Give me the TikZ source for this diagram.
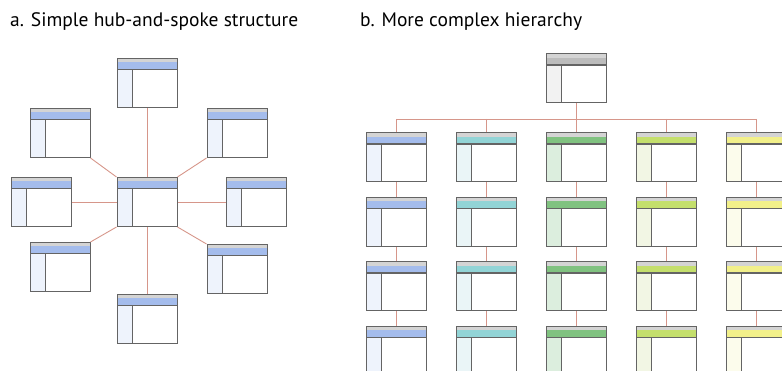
\documentclass[tikz,border=0pt]{standalone}
\usepackage{fontspec}
\setmainfont{PT Sans}
\usetikzlibrary{positioning}

\definecolor{boxline}{RGB}{100,100,100}
\definecolor{barstrip}{RGB}{212,212,212}
\definecolor{linkred}{RGB}{214,150,138}
\definecolor{bandblue}{RGB}{164,188,236}
\definecolor{sideblue}{RGB}{238,243,252}
\definecolor{bandteal}{RGB}{146,212,214}
\definecolor{sideteal}{RGB}{234,245,247}
\definecolor{bandgreen}{RGB}{128,194,128}
\definecolor{sidegreen}{RGB}{220,238,222}
\definecolor{bandlime}{RGB}{196,223,108}
\definecolor{sidelime}{RGB}{242,246,228}
\definecolor{bandyellow}{RGB}{242,240,138}
\definecolor{sideyellow}{RGB}{252,252,236}
\definecolor{bandgray}{RGB}{188,188,188}
\definecolor{sidegray}{RGB}{242,242,242}

\tikzset{
  win/.style 2 args={draw=boxline, line width=1pt, fill=white, inner sep=0pt,
    minimum width=60pt, minimum height=49pt,
    path picture={
      \fill[barstrip] (path picture bounding box.north west) rectangle ([yshift=-4pt]path picture bounding box.north east);
      \fill[#1] ([yshift=-4pt]path picture bounding box.north west) rectangle ([yshift=-10.5pt]path picture bounding box.north east);
      \fill[#2] ([yshift=-10.5pt]path picture bounding box.north west) rectangle ([xshift=15pt]path picture bounding box.south west);
      \draw[boxline, line width=1.2pt] ([yshift=-11pt]path picture bounding box.north west) -- ([yshift=-11pt]path picture bounding box.north east);
      \draw[boxline, line width=1pt] ([xshift=15pt,yshift=-11pt]path picture bounding box.north west) -- ([xshift=15pt]path picture bounding box.south west);
    }},
  link/.style={draw=linkred, line width=0.9pt},
  caption/.style={anchor=base west, font=\fontsize{19.5}{22}\selectfont, inner sep=0pt},
}

\begin{document}
\begin{tikzpicture}[x=1pt, y=1pt]
  \clip (0,0) rectangle (782,-371);
  \useasboundingbox (0,0) rectangle (782,-371);

  % Captions
  \node[caption] (capa) at (10,-27) {a. Simple hub-and-spoke structure};
  \node[caption] (capb) at (360,-27) {b. More complex hierarchy};

  % Hub and its spokes
  \node[win={bandblue}{sideblue}] (hub) at (147,-202) {};
  \node[win={bandblue}{sideblue}, above=69pt of hub] (top) {};
  \node[win={bandblue}{sideblue}, below=67pt of hub] (bottom) {};
  \node[win={bandblue}{sideblue}, left=45pt of hub] (left) {};
  \node[win={bandblue}{sideblue}, right=48pt of hub] (right) {};
  \node[win={bandblue}{sideblue}, above left=19pt and 26pt of hub] (upleft) {};
  \node[win={bandblue}{sideblue}, above right=19pt and 29pt of hub] (upright) {};
  \node[win={bandblue}{sideblue}, below left=15pt and 26pt of hub] (lowleft) {};
  \node[win={bandblue}{sideblue}, below right=17pt and 29pt of hub] (lowright) {};

  \draw[link] (top) -- (hub);
  \draw[link] (bottom) -- (hub);
  \draw[link] (left) -- (hub);
  \draw[link] (right) -- (hub);
  \draw[link] (upleft.south east) -- (hub.north west);
  \draw[link] (upright.south west) -- (hub.north east);
  \draw[link] (lowleft.north east) -- (hub.south west);
  \draw[link] (lowright.north west) -- (hub.south east);

  % Hierarchy
  \node[win={bandgray}{sidegray}] (root) at (576,-78.5) {};
  \coordinate (bus) at (0,-119);
  \foreach \band/\side [count=\i] in {bandblue/sideblue, bandteal/sideteal,
      bandgreen/sidegreen, bandlime/sidelime, bandyellow/sideyellow} {
    \node[win={\band}{\side}] (h\i-1) at (306+90*\i,-157.5) {};
    \node[win={\band}{\side}, below=14.5pt of h\i-1] (h\i-2) {};
    \node[win={\band}{\side}, below=14.5pt of h\i-2] (h\i-3) {};
    \node[win={\band}{\side}, below=14.5pt of h\i-3] (h\i-4) {};
    \draw[link] (h\i-1.north |- bus) -- (h\i-1);
    \draw[link] (h\i-1) -- (h\i-2);
    \draw[link] (h\i-2) -- (h\i-3);
    \draw[link] (h\i-3) -- (h\i-4);
  }
  \draw[link] (root) -- (root.south |- bus);
  \draw[link] (h1-1.north |- bus) -- (h5-1.north |- bus);
\end{tikzpicture}
\end{document}
